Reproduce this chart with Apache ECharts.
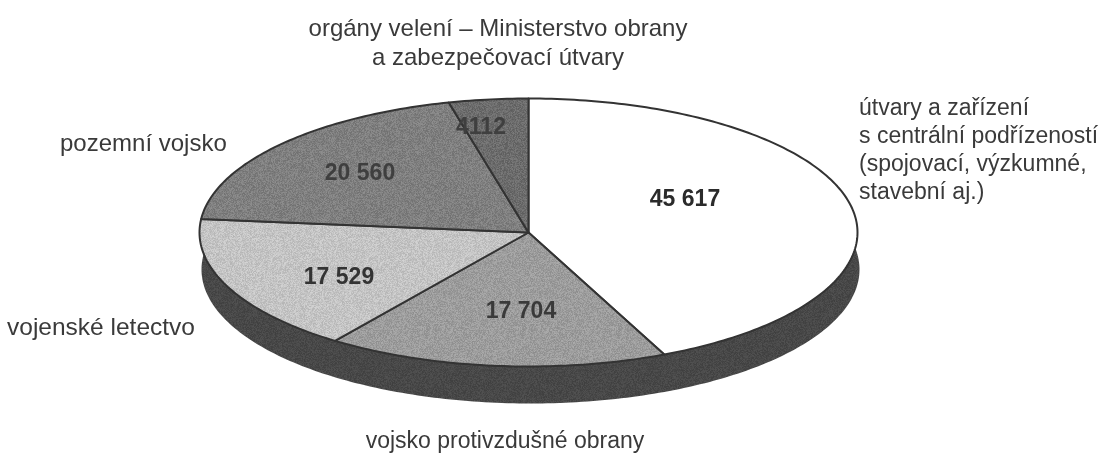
<!DOCTYPE html>
<html><head><meta charset="utf-8">
<style>html,body{margin:0;padding:0;background:#fff}#c{width:1115px;height:456px}</style>
<script src="https://cdn.jsdelivr.net/npm/echarts@6/dist/echarts.min.js"></script>
</head><body><div id="c"></div>
<script>
// Data (clockwise from 12 o'clock)
const categories = [
  'útvary a zařízení\ns centrální podřízeností\n(spojovací, výzkumné,\nstavební aj.)',
  'vojsko protivzdušné obrany',
  'vojenské letectvo',
  'pozemní vojsko',
  'orgány velení – Ministerstvo obrany\na zabezpečovací útvary'
];
const values = [45617, 17704, 17529, 20560, 4112];
const valueLabels = ['45 617', '17 704', '17 529', '20 560', '4112'];
const sliceGreys = [255, 156, 196, 127, 108];
const valueColors = ['#2b2b2b', '#3a3a3a', '#333333', '#3f3f3f', '#3f3f3f'];

const chart = echarts.init(document.getElementById('c'), null, {renderer: 'canvas'});
const total = values.reduce((a, b) => a + b, 0);
const CX = 528.5, CY = 232.5, RX = 329, RY = 134, DEPTH = 37;
const LINE = '#333333', SIDE_GREY = 72;

// Printed-paper grain: a small tile made with a fixed arithmetic sequence
function grain(grey, amp) {
  if (grey === 255) return '#ffffff';
  const cv = document.createElement('canvas');
  cv.width = cv.height = 96;
  const ctx = cv.getContext('2d');
  const img = ctx.createImageData(96, 96);
  let s = 12345 + grey;
  for (let p = 0; p < img.data.length; p += 4) {
    s = (s * 1103515 + 12345) % 2147483647;
    const v = Math.max(0, Math.min(255, grey + (s % (2 * amp + 1)) - amp));
    img.data[p] = img.data[p + 1] = img.data[p + 2] = v;
    img.data[p + 3] = 255;
  }
  ctx.putImageData(img, 0, 0);
  return {image: cv, repeat: 'repeat'};
}

function pt(frac) {
  const a = frac * 2 * Math.PI;
  return [CX + RX * Math.sin(a), CY - RY * Math.cos(a)];
}
function cumulative(i) {
  let s = 0;
  for (let k = 0; k < i; k++) s += values[k];
  return s / total;
}
function slicePoints(i) {
  const f0 = cumulative(i), f1 = f0 + values[i] / total;
  const pts = [[CX, CY]];
  const n = Math.max(8, Math.ceil((f1 - f0) * 360));
  for (let k = 0; k <= n; k++) pts.push(pt(f0 + (f1 - f0) * k / n));
  return pts;
}
function sidePoints() {
  const top = [], bottom = [];
  for (let d = 80; d <= 280; d += 1) {
    const a = d * Math.PI / 180;
    top.push([CX + RX * Math.sin(a), CY - RY * Math.cos(a)]);
    bottom.unshift([CX + 2 + RX * Math.sin(a), CY + DEPTH - RY * Math.cos(a)]);
  }
  return top.concat(bottom);
}

const fills = sliceGreys.map(g => grain(g, 15));
const sideFill = grain(SIDE_GREY, 9);

const valueAt = [[685, 200], [521, 312], [339, 278], [360, 174], [481, 128]];
const catAt = [
  {x: 859, y: 95, align: 'left', lh: 28, fs: 23},
  {x: 505, y: 429, align: 'center', lh: 25, fs: 23},
  {x: 7, y: 316, align: 'left', lh: 25, fs: 24.5},
  {x: 60, y: 132, align: 'left', lh: 25, fs: 24},
  {x: 498, y: 15, align: 'center', lh: 29, fs: 24}
];

chart.setOption({
  animation: false,
  backgroundColor: '#ffffff',
  graphic: catAt.map((p, i) => ({
    type: 'text', x: p.x, y: p.y, silent: true,
    style: {text: categories[i], align: p.align, verticalAlign: 'top',
      fontFamily: 'Liberation Sans', fontSize: p.fs, lineHeight: p.lh, fill: '#3a3a3a'}
  })),
  series: [
    {
      type: 'custom', coordinateSystem: 'none', data: [0], z: 1, silent: true,
      renderItem: () => ({type: 'polygon', shape: {points: sidePoints()}, style: {fill: sideFill}})
    },
    {
      type: 'custom', coordinateSystem: 'none', data: values.map((v, i) => i), z: 2, silent: true,
      renderItem: (params, api) => {
        const i = api.value(0);
        return {type: 'group', children: [
          {type: 'polygon', shape: {points: slicePoints(i)},
            style: {fill: fills[i], stroke: LINE, lineWidth: 2, lineJoin: 'round'}},
          {type: 'text', z2: 10, x: valueAt[i][0], y: valueAt[i][1],
            style: {text: valueLabels[i], align: 'center', verticalAlign: 'middle',
              fontFamily: 'Liberation Sans', fontWeight: 'bold', fontSize: 23, fill: valueColors[i]}}
        ]};
      }
    }
  ]
});
</script></body></html>
